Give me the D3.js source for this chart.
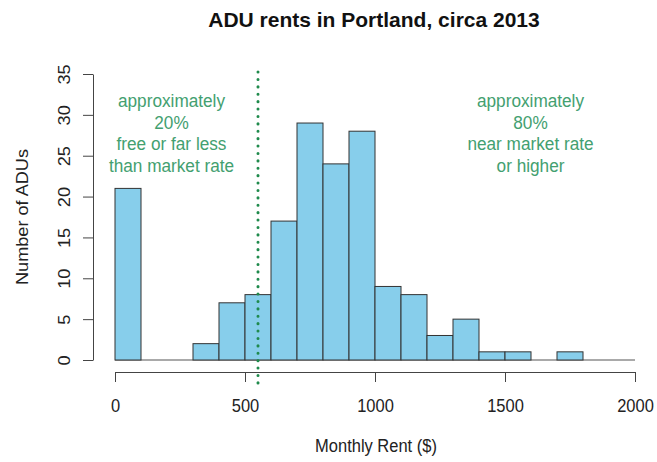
<!DOCTYPE html>
<html>
<head>
<meta charset="utf-8">
<script src="https://cdn.jsdelivr.net/npm/d3@7"></script>
<style>
  body { margin: 0; background: #fff; }
  text { font-family: "Liberation Sans", Arial, sans-serif; }
</style>
</head>
<body>
<div id="chart"></div>
<script>
// Histogram bins (lower edge, $) and counts
const binStarts = [0, 100, 200, 300, 400, 500, 600, 700, 800, 900, 1000, 1100, 1200, 1300, 1400, 1500, 1600, 1700];
const counts = [21, 0, 0, 2, 7, 8, 17, 29, 24, 28, 9, 8, 3, 5, 1, 1, 0, 1];
const binWidth = 100;
const xTicks = [0, 500, 1000, 1500, 2000];
const yTicks = [0, 5, 10, 15, 20, 25, 30, 35];
const cutoff = 550;
const leftNote = ["approximately", "20%", "free or far less", "than market rate"];
const rightNote = ["approximately", "80%", "near market rate", "or higher"];

const width = 657, height = 462;
const plot = { left: 115, right: 635, top: 74, bottom: 360 };
const stretch = "scale(1,1.1)"; // the original text looks a bit taller than wide
const font = "Liberation Sans, Arial, sans-serif";

const svg = d3.select("#chart").append("svg")
  .attr("width", width).attr("height", height);

const x = d3.scaleLinear().domain([0, 2000]).range([plot.left, plot.right]);
const y = d3.scaleLinear().domain([0, 35]).range([plot.bottom, plot.top]);

const bins = binStarts.map((b, i) => ({ x0: b, x1: b + binWidth, n: counts[i] }));

// baseline under the bars (empty bins show as a flat line)
svg.append("line")
  .attr("x1", x(0)).attr("x2", x(2000))
  .attr("y1", y(0)).attr("y2", y(0))
  .attr("stroke", "#555").attr("stroke-width", 1);

svg.selectAll(".bar").data(bins.filter(d => d.n > 0)).join("rect")
  .attr("class", "bar")
  .attr("x", d => x(d.x0)).attr("y", d => y(d.n))
  .attr("width", d => x(d.x1) - x(d.x0))
  .attr("height", d => y(0) - y(d.n))
  .attr("fill", "#87ceeb").attr("stroke", "#333").attr("stroke-width", 1);

// x axis
const xAxis = svg.append("g")
  .attr("transform", `translate(0, 372)`)
  .call(d3.axisBottom(x).tickValues(xTicks).tickFormat(d3.format("d")).tickSize(10).tickSizeOuter(0));
xAxis.select(".domain").attr("stroke", "#444");
xAxis.selectAll(".tick line").attr("stroke", "#444");
xAxis.selectAll("text")
  .attr("y", null).attr("dy", null)
  .attr("transform", `translate(0, 40) ${stretch}`)
  .attr("font-size", 16.5).attr("fill", "#222").style("font-family", font);

// y axis, labels rotated like base R
const yAxis = svg.append("g")
  .attr("transform", `translate(93, 0)`)
  .call(d3.axisLeft(y).tickValues(yTicks).tickSize(10).tickSizeOuter(0));
yAxis.select(".domain").attr("stroke", "#444");
yAxis.selectAll(".tick line").attr("stroke", "#444");
yAxis.selectAll("text")
  .attr("x", null).attr("dy", null)
  .attr("transform", `translate(-23, 0) ${stretch} rotate(-90)`)
  .attr("text-anchor", "middle")
  .attr("font-size", 16.5).attr("fill", "#222").style("font-family", font);

// cutoff line
svg.append("line")
  .attr("x1", x(cutoff)).attr("x2", x(cutoff))
  .attr("y1", 72).attr("y2", 384)
  .attr("stroke", "#1f8a4c").attr("stroke-width", 3)
  .attr("stroke-dasharray", "0.1 7.3").attr("stroke-linecap", "round");

// titles
svg.append("text").attr("x", 374).attr("y", 27)
  .attr("text-anchor", "middle").attr("font-size", 21).attr("font-weight", "bold")
  .attr("fill", "#111").text("ADU rents in Portland, circa 2013");

svg.append("text").attr("transform", `translate(376, 452) ${stretch}`)
  .attr("text-anchor", "middle").attr("font-size", 16.5).attr("fill", "#222")
  .text("Monthly Rent ($)");

svg.append("text").attr("transform", `translate(28, 217) ${stretch} rotate(-90)`)
  .attr("text-anchor", "middle").attr("font-size", 16.5).attr("fill", "#222")
  .text("Number of ADUs");

// annotations
function note(lines, cx) {
  svg.append("g").selectAll("text").data(lines).join("text")
    .attr("transform", (d, i) => `translate(${cx}, ${107 + i * 21.5}) ${stretch}`)
    .attr("text-anchor", "middle").attr("font-size", 17.2)
    .attr("fill", "#43a070").text(d => d);
}
note(leftNote, 171.5);
note(rightNote, 530.5);
</script>
</body>
</html>
